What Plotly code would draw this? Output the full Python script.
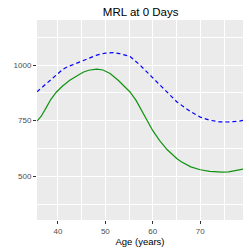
import plotly.graph_objects as go

age_green = [35.6, 36.5, 37.6, 38.5, 39.7, 41, 42.5, 44, 45.3, 46.5, 48.2, 49.5, 51, 52.7, 54, 55.2, 56.5, 58, 60, 61.4, 63, 65.1, 66, 68, 70, 72, 74.6, 76, 78, 79]
mrl_green = [748, 770, 811, 845, 879, 906, 932, 952, 968, 977, 982, 978, 962, 932, 905, 879, 840, 785, 705, 661, 620, 579, 565, 542, 529, 522, 518, 520, 526, 532]

age_blue = [35.6, 38, 40, 41.1, 42, 44, 46, 48.2, 50, 51.7, 53, 55.2, 57.3, 59.5, 62, 65.1, 68, 70, 72, 74, 75.7, 78, 79]
mrl_blue = [880, 925, 965, 982, 992, 1010, 1028, 1045, 1054, 1056, 1052, 1039, 1000, 955, 900, 834, 790, 766, 752, 745, 744, 747, 751]

x_ticks = [40, 50, 60, 70]
x_minor = [45, 55, 65, 75]
y_ticks = [500, 750, 1000]
y_minor = [375, 625, 875, 1125]

fig = go.Figure()
fig.add_trace(go.Scatter(x=age_blue, y=mrl_blue, mode="lines", line=dict(color="blue", width=1.2, dash="4px,3px"), showlegend=False))
fig.add_trace(go.Scatter(x=age_green, y=mrl_green, mode="lines", line=dict(color="#0f930f", width=1.2), showlegend=False))

axis_common = dict(
    showgrid=True, gridcolor="white", gridwidth=1.1,
    ticks="outside", ticklen=3, tickcolor="#333333", tickwidth=1,
    tickfont=dict(size=8, color="#4D4D4D", family="Liberation Sans"),
    zeroline=False, showline=False, automargin=False,
)

fig.update_layout(
    width=249, height=249, autosize=False,
    margin=dict(l=37, r=6, t=20, b=29, pad=0),
    paper_bgcolor="white", plot_bgcolor="#EBEBEB",
    font=dict(family="Liberation Sans", color="black"),
    title=dict(text="MRL at 0 Days", x=0.565, xanchor="center", y=0.952, yanchor="middle", font=dict(size=11.5, color="black"), automargin=False),
    xaxis=dict(range=[35.6, 79.0], tickvals=x_ticks, ticktext=[str(v) for v in x_ticks],
               title=dict(text="Age (years)", font=dict(size=9.5, color="black"), standoff=2),
               minor=dict(tickvals=x_minor, showgrid=True, gridcolor="white", gridwidth=0.5, ticks=""),
               **axis_common),
    yaxis=dict(range=[303, 1203], tickvals=y_ticks, ticktext=[str(v) for v in y_ticks],
               minor=dict(tickvals=y_minor, showgrid=True, gridcolor="white", gridwidth=0.5, ticks=""),
               **axis_common),
)

fig.write_html("out.html", config={"displayModeBar": False},
               post_script="document.body.style.margin='0';document.body.style.overflow='hidden';")
